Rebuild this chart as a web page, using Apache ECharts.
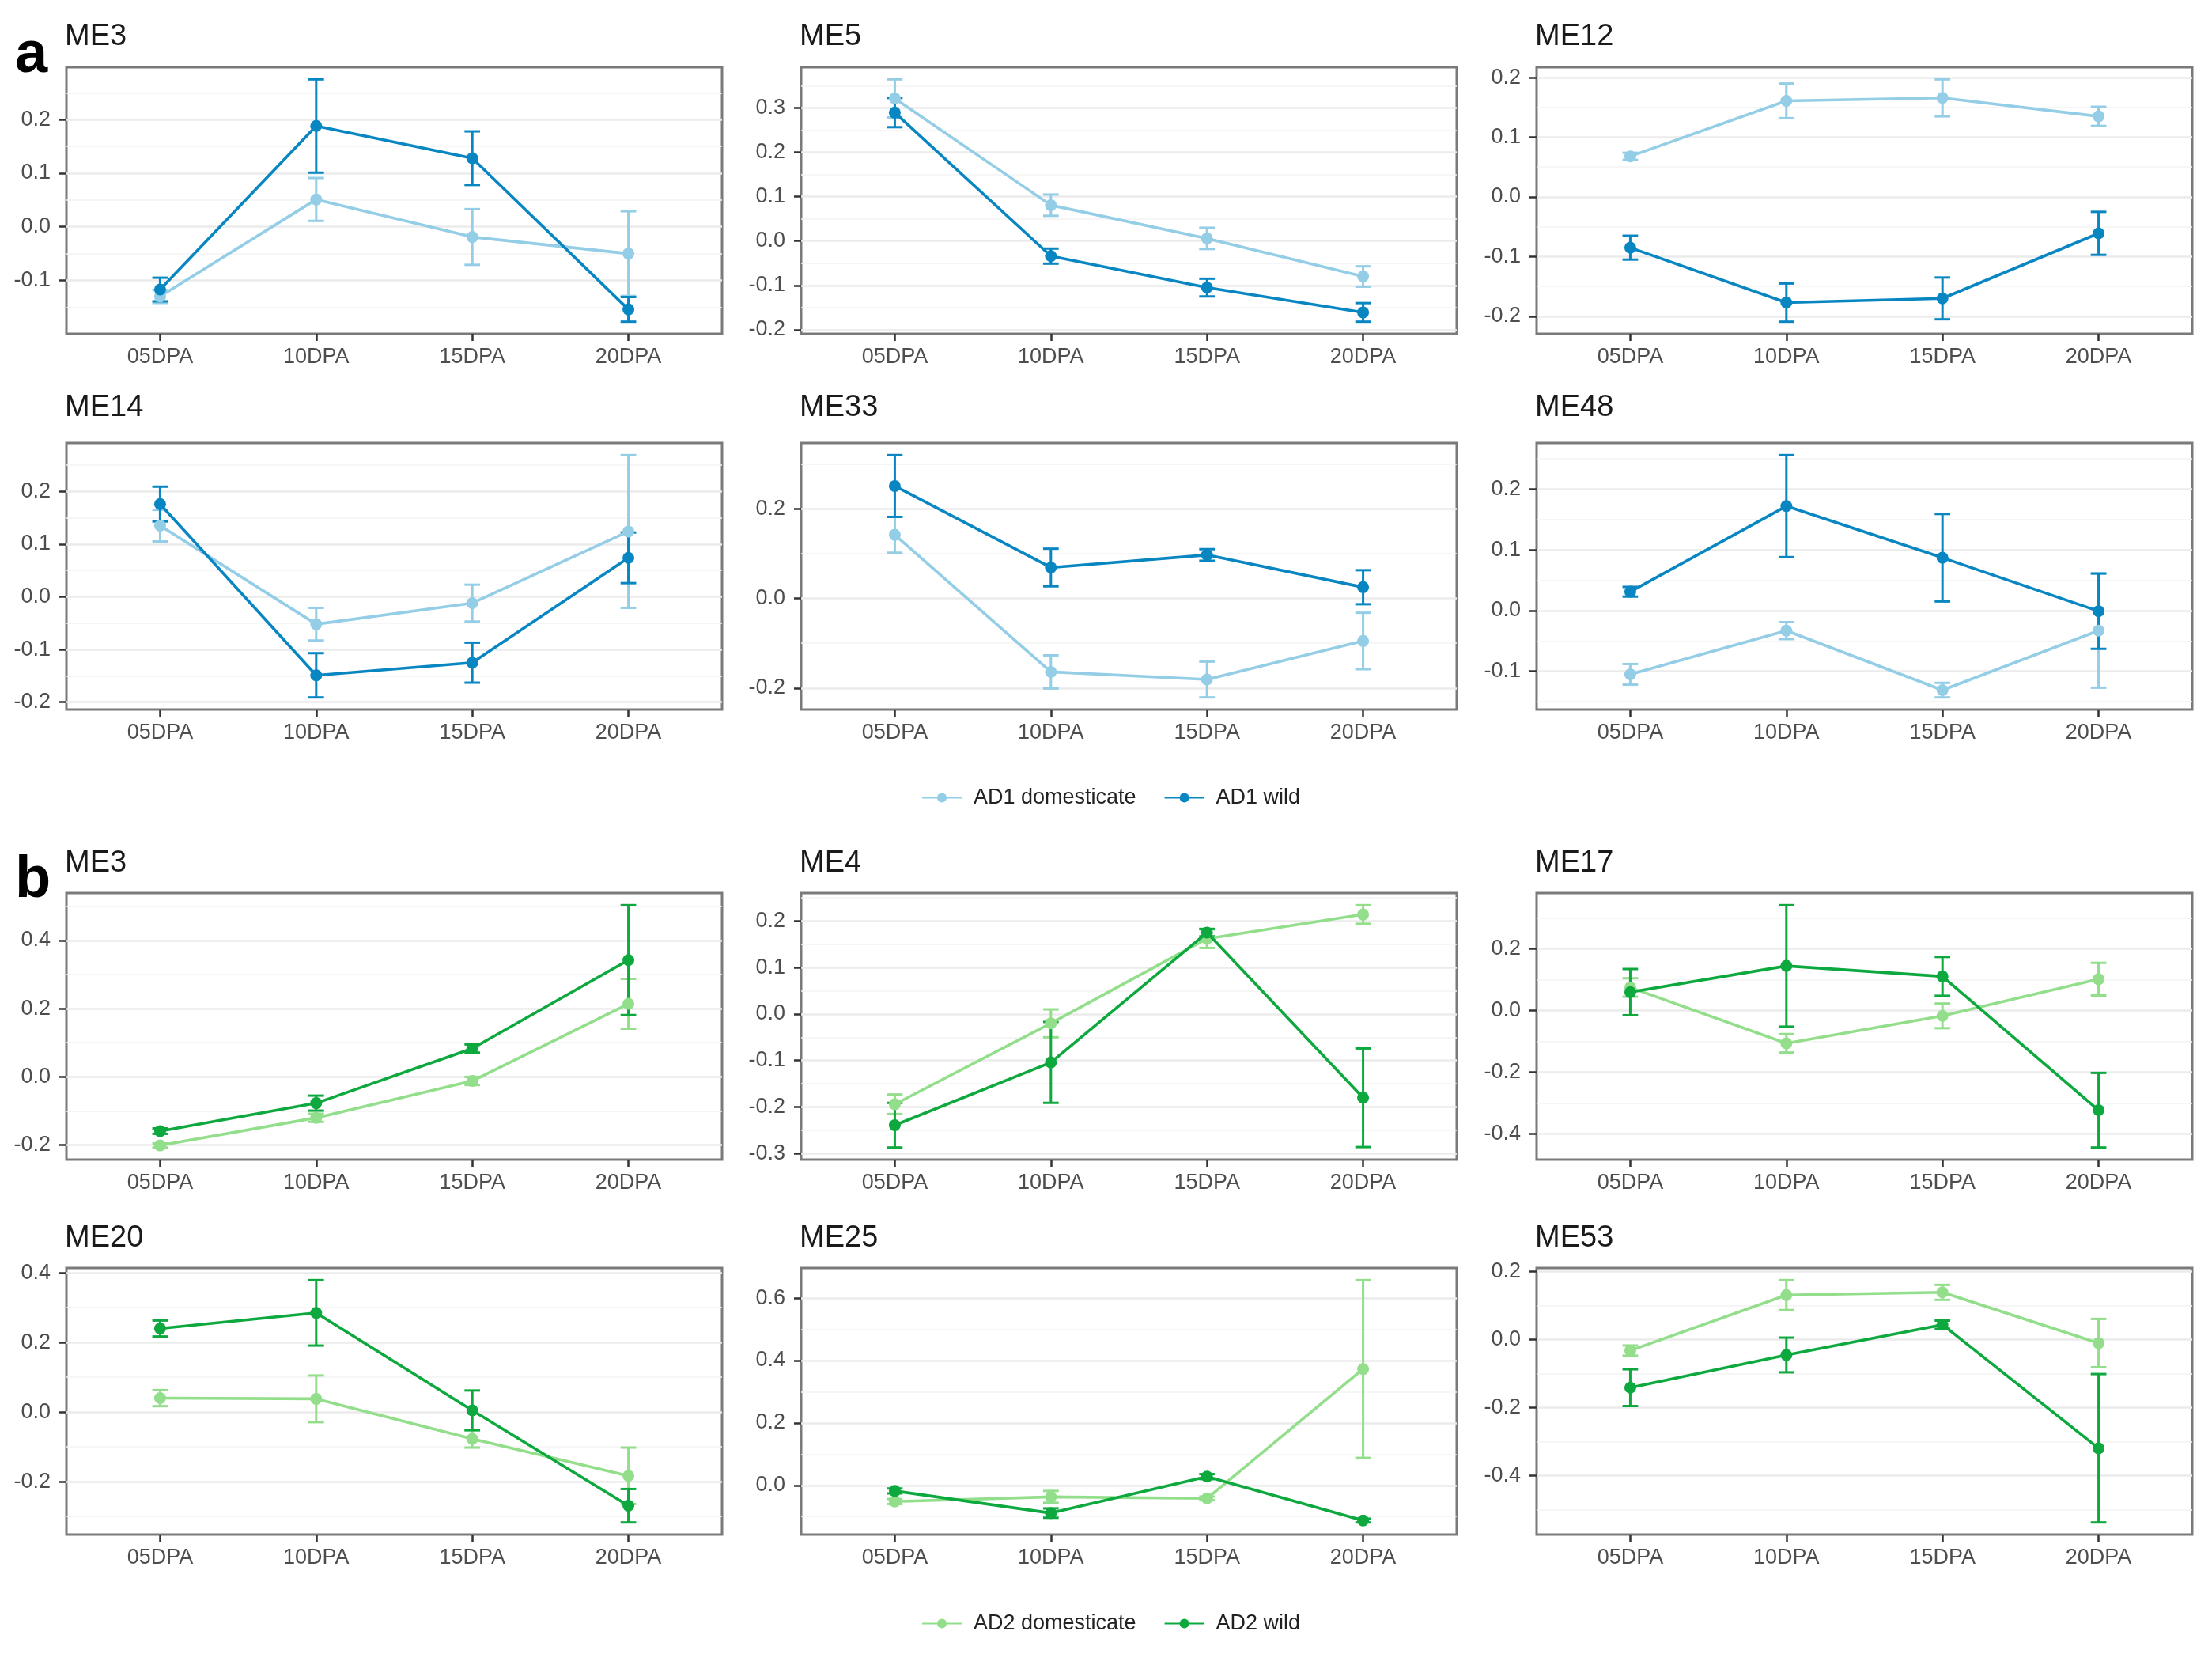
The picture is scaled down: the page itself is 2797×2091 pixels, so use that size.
<!DOCTYPE html>
<html><head><meta charset="utf-8">
<script src="https://cdn.jsdelivr.net/npm/echarts@6/dist/echarts.min.js"></script>
<style>html,body{margin:0;padding:0;background:#fff}#c{width:2797px;height:2091px}</style>
</head><body><div id="c"></div>
<script>
// ---------- data ----------
const stages = ['05DPA', '10DPA', '15DPA', '20DPA'];

// panel a: AD1
const a_ME3_dom_mean  = [-0.130, 0.051, -0.019, -0.050];
const a_ME3_dom_se    = [0.012, 0.040, 0.052, 0.079];
const a_ME3_wild_mean = [-0.117, 0.188, 0.128, -0.154];
const a_ME3_wild_se   = [0.022, 0.087, 0.050, 0.023];
const a_ME3_ticks     = [-0.1, 0, 0.1, 0.2];

const a_ME5_dom_mean  = [0.322, 0.081, 0.006, -0.080];
const a_ME5_dom_se    = [0.043, 0.024, 0.024, 0.023];
const a_ME5_wild_mean = [0.290, -0.034, -0.105, -0.161];
const a_ME5_wild_se   = [0.033, 0.017, 0.020, 0.021];
const a_ME5_ticks     = [-0.2, -0.1, 0, 0.1, 0.2, 0.3];

const a_ME12_dom_mean  = [0.068, 0.161, 0.166, 0.135];
const a_ME12_dom_se    = [0.006, 0.029, 0.031, 0.016];
const a_ME12_wild_mean = [-0.085, -0.177, -0.170, -0.061];
const a_ME12_wild_se   = [0.020, 0.032, 0.035, 0.036];
const a_ME12_ticks     = [-0.2, -0.1, 0, 0.1, 0.2];

const a_ME14_dom_mean  = [0.135, -0.052, -0.012, 0.124];
const a_ME14_dom_se    = [0.030, 0.031, 0.035, 0.145];
const a_ME14_wild_mean = [0.176, -0.149, -0.125, 0.074];
const a_ME14_wild_se   = [0.033, 0.042, 0.038, 0.048];
const a_ME14_ticks     = [-0.2, -0.1, 0, 0.1, 0.2];

const a_ME33_dom_mean  = [0.142, -0.164, -0.181, -0.095];
const a_ME33_dom_se    = [0.040, 0.037, 0.040, 0.063];
const a_ME33_wild_mean = [0.251, 0.069, 0.097, 0.025];
const a_ME33_wild_se   = [0.069, 0.042, 0.013, 0.038];
const a_ME33_ticks     = [-0.2, 0, 0.2];

const a_ME48_dom_mean  = [-0.105, -0.033, -0.131, -0.033];
const a_ME48_dom_se    = [0.017, 0.014, 0.012, 0.094];
const a_ME48_wild_mean = [0.031, 0.172, 0.087, -0.001];
const a_ME48_wild_se   = [0.008, 0.084, 0.072, 0.062];
const a_ME48_ticks     = [-0.1, 0, 0.1, 0.2];

// panel b: AD2
const b_ME3_dom_mean  = [-0.201, -0.120, -0.012, 0.214];
const b_ME3_dom_se    = [0.006, 0.012, 0.012, 0.073];
const b_ME3_wild_mean = [-0.159, -0.077, 0.083, 0.342];
const b_ME3_wild_se   = [0.008, 0.022, 0.012, 0.161];
const b_ME3_ticks     = [-0.2, 0, 0.2, 0.4];

const b_ME4_dom_mean  = [-0.194, -0.020, 0.162, 0.214];
const b_ME4_dom_se    = [0.021, 0.030, 0.020, 0.020];
const b_ME4_wild_mean = [-0.239, -0.104, 0.175, -0.180];
const b_ME4_wild_se   = [0.048, 0.087, 0.008, 0.106];
const b_ME4_ticks     = [-0.3, -0.2, -0.1, 0, 0.1, 0.2];

const b_ME17_dom_mean  = [0.075, -0.106, -0.017, 0.102];
const b_ME17_dom_se    = [0.030, 0.030, 0.040, 0.053];
const b_ME17_wild_mean = [0.060, 0.145, 0.111, -0.323];
const b_ME17_wild_se   = [0.075, 0.197, 0.063, 0.121];
const b_ME17_ticks     = [-0.4, -0.2, 0, 0.2];

const b_ME20_dom_mean  = [0.040, 0.038, -0.077, -0.183];
const b_ME20_dom_se    = [0.023, 0.067, 0.025, 0.081];
const b_ME20_wild_mean = [0.240, 0.285, 0.005, -0.269];
const b_ME20_wild_se   = [0.023, 0.094, 0.057, 0.048];
const b_ME20_ticks     = [-0.2, 0, 0.2, 0.4];

const b_ME25_dom_mean  = [-0.052, -0.037, -0.042, 0.373];
const b_ME25_dom_se    = [0.008, 0.019, 0.006, 0.285];
const b_ME25_wild_mean = [-0.018, -0.089, 0.028, -0.113];
const b_ME25_wild_se   = [0.008, 0.015, 0.008, 0.006];
const b_ME25_ticks     = [0, 0.2, 0.4, 0.6];

const b_ME53_dom_mean  = [-0.032, 0.131, 0.139, -0.010];
const b_ME53_dom_se    = [0.015, 0.044, 0.022, 0.071];
const b_ME53_wild_mean = [-0.141, -0.045, 0.044, -0.319];
const b_ME53_wild_se   = [0.054, 0.051, 0.012, 0.218];
const b_ME53_ticks     = [-0.4, -0.2, 0, 0.2];

const groupNames = {
  a: ['AD1 domesticate', 'AD1 wild'],
  b: ['AD2 domesticate', 'AD2 wild']
};

// ---------- panels ----------
const panels = [
  {t:'ME3',  g:'a', dm:a_ME3_dom_mean,  ds:a_ME3_dom_se,  wm:a_ME3_wild_mean,  ws:a_ME3_wild_se,  ticks:a_ME3_ticks},
  {t:'ME5',  g:'a', dm:a_ME5_dom_mean,  ds:a_ME5_dom_se,  wm:a_ME5_wild_mean,  ws:a_ME5_wild_se,  ticks:a_ME5_ticks},
  {t:'ME12', g:'a', dm:a_ME12_dom_mean, ds:a_ME12_dom_se, wm:a_ME12_wild_mean, ws:a_ME12_wild_se, ticks:a_ME12_ticks},
  {t:'ME14', g:'a', dm:a_ME14_dom_mean, ds:a_ME14_dom_se, wm:a_ME14_wild_mean, ws:a_ME14_wild_se, ticks:a_ME14_ticks},
  {t:'ME33', g:'a', dm:a_ME33_dom_mean, ds:a_ME33_dom_se, wm:a_ME33_wild_mean, ws:a_ME33_wild_se, ticks:a_ME33_ticks},
  {t:'ME48', g:'a', dm:a_ME48_dom_mean, ds:a_ME48_dom_se, wm:a_ME48_wild_mean, ws:a_ME48_wild_se, ticks:a_ME48_ticks},
  {t:'ME3',  g:'b', dm:b_ME3_dom_mean,  ds:b_ME3_dom_se,  wm:b_ME3_wild_mean,  ws:b_ME3_wild_se,  ticks:b_ME3_ticks},
  {t:'ME4',  g:'b', dm:b_ME4_dom_mean,  ds:b_ME4_dom_se,  wm:b_ME4_wild_mean,  ws:b_ME4_wild_se,  ticks:b_ME4_ticks},
  {t:'ME17', g:'b', dm:b_ME17_dom_mean, ds:b_ME17_dom_se, wm:b_ME17_wild_mean, ws:b_ME17_wild_se, ticks:b_ME17_ticks},
  {t:'ME20', g:'b', dm:b_ME20_dom_mean, ds:b_ME20_dom_se, wm:b_ME20_wild_mean, ws:b_ME20_wild_se, ticks:b_ME20_ticks},
  {t:'ME25', g:'b', dm:b_ME25_dom_mean, ds:b_ME25_dom_se, wm:b_ME25_wild_mean, ws:b_ME25_wild_se, ticks:b_ME25_ticks},
  {t:'ME53', g:'b', dm:b_ME53_dom_mean, ds:b_ME53_dom_se, wm:b_ME53_wild_mean, ws:b_ME53_wild_se, ticks:b_ME53_ticks}
];

// ---------- styling / layout ----------
const colors = {
  a: ['#93CDE6', '#0886C2'],
  b: ['#92DE8B', '#0DA83E']
};
const FONT = "'Liberation Sans', Arial, Helvetica, sans-serif";
const gridLeft = [84, 1013, 1943];
const gridTop = [85, 560, 1129, 1603];
const titleTop = [28, 497, 1073, 1547];
const GW = 829, GH = 337;

const grids = [], xAxes = [], yAxes = [], series = [], titles = [];

function errBar(color, width) {
  return function (params, api) {
    const x = api.value(0), lo = api.value(1), hi = api.value(2);
    const pLo = api.coord([x, lo]);
    const pHi = api.coord([x, hi]);
    const half = api.size([0.1, 0])[0] / 2;
    const st = {stroke: color, lineWidth: width};
    return {
      type: 'group',
      children: [
        {type: 'line', shape: {x1: pLo[0], y1: pLo[1], x2: pHi[0], y2: pHi[1]}, style: st},
        {type: 'line', shape: {x1: pLo[0] - half, y1: pLo[1], x2: pLo[0] + half, y2: pLo[1]}, style: st},
        {type: 'line', shape: {x1: pHi[0] - half, y1: pHi[1], x2: pHi[0] + half, y2: pHi[1]}, style: st}
      ]
    };
  };
}

panels.forEach((p, k) => {
  const row = Math.floor(k / 3), col = k % 3;
  grids.push({
    left: gridLeft[col], top: gridTop[row], width: GW, height: GH,
    show: true, borderColor: '#7a7a7a', borderWidth: 3, backgroundColor: '#fff'
  });
  titles.push({
    text: p.t, left: gridLeft[col] - 2, top: titleTop[row], padding: 0,
    textStyle: {fontFamily: FONT, fontSize: 38, fontWeight: 'normal', color: '#1a1a1a'}
  });

  const lows = [], highs = [];
  for (let i = 0; i < stages.length; i++) {
    lows.push(p.dm[i] - p.ds[i], p.wm[i] - p.ws[i]);
    highs.push(p.dm[i] + p.ds[i], p.wm[i] + p.ws[i]);
  }
  const lo = Math.min(...lows), hi = Math.max(...highs);
  const pad = (hi - lo) * 0.05;
  const iv = Math.round((p.ticks[1] - p.ticks[0]) * 1000) / 1000;

  xAxes.push({
    gridIndex: k, type: 'value', position: 'bottom', min: -0.6, max: 3.6, minInterval: 1, maxInterval: 1,
    axisLine: {show: false, onZero: false},
    axisTick: {show: true, length: 9, lineStyle: {color: '#333', width: 2.5}, customValues: [0, 1, 2, 3]},
    axisLabel: {
      customValues: [0, 1, 2, 3], margin: 16, fontSize: 27, color: '#4d4d4d', fontFamily: FONT,
      formatter: v => (Math.abs(v - Math.round(v)) < 1e-6 && stages[Math.round(v)]) ? stages[Math.round(v)] : ''
    },
    splitLine: {show: false}
  });
  yAxes.push({
    gridIndex: k, type: 'value', position: 'left', min: lo - pad, max: hi + pad, minInterval: iv, maxInterval: iv,
    axisLine: {show: false, onZero: false},
    axisTick: {show: true, length: 9, lineStyle: {color: '#333', width: 2.5}, customValues: p.ticks},
    axisLabel: {
      customValues: p.ticks, margin: 20, fontSize: 27, color: '#4d4d4d', fontFamily: FONT,
      formatter: v => {
        const r = v / iv;
        return Math.abs(r - Math.round(r)) < 1e-6 ? (Math.abs(v) < 1e-9 ? '0.0' : v.toFixed(1)) : '';
      }
    },
    splitLine: {show: true, lineStyle: {color: '#EBEBEB', width: 2.5}},
    minorTick: {show: false, splitNumber: 2},
    minorSplitLine: {show: true, lineStyle: {color: '#F3F3F3', width: 1.5}}
  });

  const names = groupNames[p.g], cols = colors[p.g];
  const sets = [[p.dm, p.ds], [p.wm, p.ws]];
  sets.forEach((s, j) => {
    series.push({
      type: 'custom', name: names[j] + ' se', xAxisIndex: k, yAxisIndex: k,
      renderItem: errBar(cols[j], 3), silent: true, z: 2 + j,
      encode: {x: 0, y: [1, 2]},
      data: stages.map((_, i) => [i, s[0][i] - s[1][i], s[0][i] + s[1][i]])
    });
  });
  sets.forEach((s, j) => {
    series.push({
      type: 'line', name: names[j], xAxisIndex: k, yAxisIndex: k,
      data: stages.map((_, i) => [i, s[0][i]]),
      symbol: 'circle', symbolSize: 15, showSymbol: true, silent: true, z: 5 + j,
      lineStyle: {color: cols[j], width: 3.6},
      itemStyle: {color: cols[j]}
    });
  });
});

titles.push({text: 'a', left: 19, top: 34, padding: 0,
  textStyle: {fontFamily: FONT, fontSize: 74, fontWeight: 'bold', color: '#000'}});
titles.push({text: 'b', left: 19, top: 1077, padding: 0,
  textStyle: {fontFamily: FONT, fontSize: 74, fontWeight: 'bold', color: '#000'}});

const legendCommon = {
  orient: 'horizontal', itemWidth: 50, itemHeight: 15, itemGap: 35,
  textStyle: {fontFamily: FONT, fontSize: 27, color: '#222', padding: [0, 0, 0, 10]},
  selectedMode: false
};

const option = {
  animation: false,
  backgroundColor: '#fff',
  textStyle: {fontFamily: FONT},
  title: titles,
  legend: [
    Object.assign({data: groupNames.a, left: 1160, top: 990}, legendCommon),
    Object.assign({data: groupNames.b, left: 1160, top: 2034}, legendCommon)
  ],
  grid: grids,
  xAxis: xAxes,
  yAxis: yAxes,
  series: series
};

const chart = echarts.init(document.getElementById('c'), null, {renderer: 'canvas'});
chart.setOption(option);
</script>
</body></html>
